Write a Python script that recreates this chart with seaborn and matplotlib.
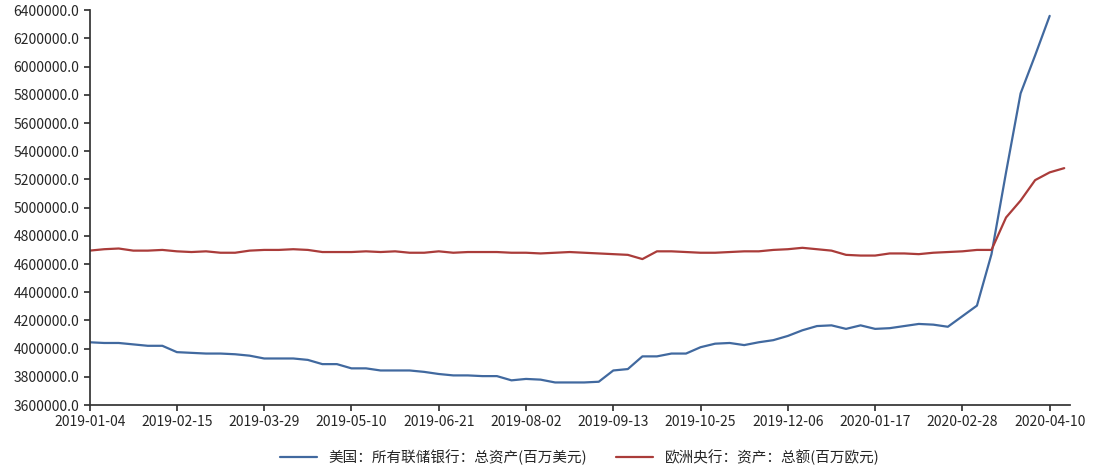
import matplotlib
matplotlib.use("Agg")
import matplotlib.pyplot as plt
import matplotlib.ticker as mticker
import seaborn as sns
import numpy as np
import pandas as pd

dates = pd.date_range("2019-01-04", periods=68, freq="7D")

# 美国：所有联储银行：总资产(百万美元)
fed = [4045000, 4040000, 4040000, 4030000, 4020000, 4020000, 3975000, 3970000,
       3965000, 3965000, 3960000, 3950000, 3930000, 3930000, 3930000, 3920000,
       3890000, 3890000, 3860000, 3860000, 3845000, 3845000, 3845000, 3835000,
       3820000, 3810000, 3810000, 3805000, 3805000, 3775000, 3785000, 3780000,
       3760000, 3760000, 3760000, 3765000, 3845000, 3855000, 3945000, 3945000,
       3965000, 3965000, 4010000, 4035000, 4040000, 4025000, 4045000, 4060000,
       4090000, 4130000, 4160000, 4165000, 4140000, 4165000, 4140000, 4145000,
       4160000, 4175000, 4170000, 4155000, 4230000, 4305000, 4670000, 5250000,
       5810000, 6080000, 6360000, np.nan]

# 欧洲央行：资产：总额(百万欧元)
ecb = [4695000, 4705000, 4710000, 4695000, 4695000, 4700000, 4690000, 4685000,
       4690000, 4680000, 4680000, 4695000, 4700000, 4700000, 4705000, 4700000,
       4685000, 4685000, 4685000, 4690000, 4685000, 4690000, 4680000, 4680000,
       4690000, 4680000, 4685000, 4685000, 4685000, 4680000, 4680000, 4675000,
       4680000, 4685000, 4680000, 4675000, 4670000, 4665000, 4635000, 4690000,
       4690000, 4685000, 4680000, 4680000, 4685000, 4690000, 4690000, 4700000,
       4705000, 4715000, 4705000, 4695000, 4665000, 4660000, 4660000, 4675000,
       4675000, 4670000, 4680000, 4685000, 4690000, 4700000, 4700000, 4930000,
       5050000, 5195000, 5250000, 5280000]

labels = ["美国：所有联储银行：总资产(百万美元)", "欧洲央行：资产：总额(百万欧元)"]
colors = ["#41699f", "#aa3c3a"]

sns.set_theme(style="white")
plt.rcParams["font.family"] = ["Noto Sans CJK SC", "DejaVu Sans"]

df = pd.DataFrame({"date": list(dates) * 2, "value": fed + ecb,
                   "series": [labels[0]] * 68 + [labels[1]] * 68})

fig, ax = plt.subplots(figsize=(10.93, 4.65), dpi=100)
sns.lineplot(data=df, x="date", y="value", hue="series", palette=colors,
             linewidth=1.6, ax=ax)

ax.set_ylim(3600000, 6400000)
ax.set_yticks(np.arange(3600000, 6400001, 200000))
ax.yaxis.set_major_formatter(mticker.FormatStrFormatter("%.1f"))
ax.set_xlim(dates[0], dates[0] + pd.Timedelta(days=7 * 67.4))
ax.set_xticks(dates[0:67:6])
ax.set_xticklabels([d.strftime("%Y-%m-%d") for d in dates[0:67:6]])
ax.tick_params(axis="both", labelsize=10, length=4, direction="out", color="#333333")
ax.tick_params(left=True, bottom=True)
ax.set_xlabel("")
ax.set_ylabel("")
for s in ["top", "right"]:
    ax.spines[s].set_visible(False)
for s in ["left", "bottom"]:
    ax.spines[s].set_color("#333333")

ax.legend(loc="upper center", bbox_to_anchor=(0.5, -0.08), ncol=2, frameon=False,
          fontsize=10.5, handlelength=2.5, columnspacing=2)

plt.subplots_adjust(left=0.082, right=0.979, top=0.978, bottom=0.129)
fig.savefig("out.png", dpi=100)
